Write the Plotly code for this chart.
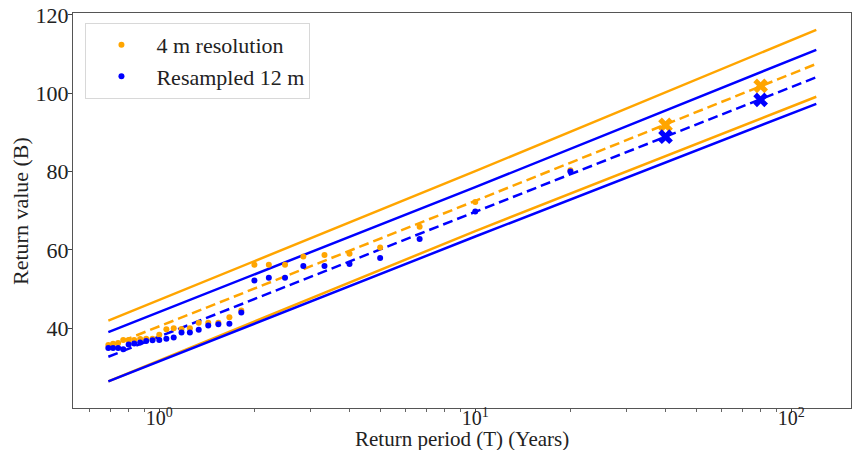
import plotly.graph_objects as go

# ---------------- data ----------------
# empirical return periods (years)
T_pts = [0.690, 0.714, 0.741, 0.769, 0.800, 0.833, 0.870, 0.909, 0.952, 1.000,
         1.053, 1.111, 1.176, 1.250, 1.333, 1.429, 1.538, 1.667, 1.818,
         2.000, 2.222, 2.500, 2.857, 3.333, 4.000, 5.000, 6.667, 10.00, 20.00]
orange_pts = [35.7, 36.0, 36.2, 37.0, 37.0, 37.0, 37.2, 37.3, 37.3, 38.3,
              39.7, 40.0, 39.8, 40.0, 41.4, 41.4, 41.4, 42.8, 44.5,
              56.2, 56.2, 56.2, 58.3, 58.7, 59.0, 60.6, 65.9, 72.2, 80.3]
blue_pts = [34.9, 34.9, 34.9, 34.6, 35.8, 36.1, 36.3, 36.7, 36.9, 37.0,
            37.3, 37.6, 38.9, 38.9, 39.6, 40.7, 41.0, 41.1, 44.0,
            52.2, 52.9, 52.9, 55.9, 55.9, 56.4, 57.9, 62.8, 69.8, 80.0]

# extrapolated return levels (crosses)
T_x = [40, 80]
orange_x = [91.9, 101.9]
blue_x = [88.9, 98.3]

# fitted curves and confidence bounds
T_fit = [0.69, 10, 120]
orange_fit = [35.3, 72.5, 107.5]
blue_fit = [32.7, 69.6, 104.1]
orange_upper = [41.9, 80.1, 116.2]
blue_upper = [39.0, 76.0, 111.1]
orange_lower = [26.4, 64.8, 99.1]
blue_lower = [26.4, 63.4, 97.3]

x_ticks = [1, 10, 100]
x_ticktext = ["10<sup>0</sup>", "10<sup>1</sup>", "10<sup>2</sup>"]
x_minor = [0.6, 0.7, 0.8, 0.9, 2, 3, 4, 5, 6, 7, 8, 9,
           20, 30, 40, 50, 60, 70, 80, 90]
y_ticks = [40, 60, 80, 100, 120]

ORANGE = "#FFA500"
BLUE = "#0000FF"
FONT = "Liberation Serif"

fig = go.Figure()

def line(y, color, dash="solid"):
    fig.add_trace(go.Scatter(x=T_fit, y=y, mode="lines",
                             line=dict(color=color, width=2.5, dash=dash),
                             showlegend=False, hoverinfo="skip"))

line(orange_upper, ORANGE)
line(blue_upper, BLUE)
line(orange_fit, ORANGE, "10px,5px")
line(blue_fit, BLUE, "10px,5px")
line(orange_lower, ORANGE)
line(blue_lower, BLUE)

fig.add_trace(go.Scatter(x=T_pts, y=orange_pts, mode="markers", name="4 m resolution",
                         marker=dict(color=ORANGE, size=6), legendgroup="a"))
fig.add_trace(go.Scatter(x=T_pts, y=blue_pts, mode="markers", name="Resampled 12 m",
                         marker=dict(color=BLUE, size=6), legendgroup="b"))
fig.add_trace(go.Scatter(x=T_x, y=orange_x, mode="markers", showlegend=False,
                         marker=dict(color=ORANGE, size=13, symbol="x")))
fig.add_trace(go.Scatter(x=T_x, y=blue_x, mode="markers", showlegend=False,
                         marker=dict(color=BLUE, size=13, symbol="x")))

fig.update_layout(
    width=852, height=450,
    margin=dict(l=73, r=1, t=13, b=42),
    plot_bgcolor="white", paper_bgcolor="white",
    font=dict(family=FONT, size=22, color="#222"),
    legend=dict(x=0.016, y=0.975, xanchor="left", yanchor="top",
                bordercolor="#d8d8d8", borderwidth=1, bgcolor="rgba(255,255,255,0.8)",
                font=dict(family=FONT, size=22, color="#222"),
                itemwidth=60, traceorder="grouped", tracegroupgap=0),
    xaxis=dict(type="log", range=[-0.273, 2.189], automargin=False,
               tickvals=x_ticks, ticktext=x_ticktext,
               ticks="outside", ticklen=4, tickcolor="#444",
               ticklabelstandoff=-12, ticklabeloverflow="allow",
               showgrid=False, zeroline=False,
               showline=True, linecolor="#555", linewidth=1, mirror=True,
               minor=dict(tickvals=x_minor, ticks="outside", ticklen=2.5, tickcolor="#666", showgrid=False),
               tickfont=dict(family=FONT, size=20)),
    yaxis=dict(range=[19.6, 120.5], tickvals=y_ticks, automargin=False,
               ticks="outside", ticklen=4, tickcolor="#444",
               ticklabelstandoff=-5, ticklabeloverflow="allow",
               showgrid=False, zeroline=False,
               showline=True, linecolor="#555", linewidth=1, mirror=True,
               tickfont=dict(family=FONT, size=22)),
    annotations=[
        dict(text="Return period (T) (Years)", xref="paper", yref="paper",
             x=0.5, y=0, xanchor="center", yanchor="top", yshift=-17,
             showarrow=False, font=dict(family=FONT, size=21, color="#222")),
        dict(text="Return value (B)", xref="paper", yref="paper",
             x=0, y=0.5, xanchor="right", yanchor="middle", xshift=-38,
             textangle=-90, showarrow=False,
             font=dict(family=FONT, size=22, color="#222")),
    ],
)

# remove the browser's default 8px body margin so the figure fills the window
fig.write_html("out.html", config={"displayModeBar": False},
               post_script="document.body.style.margin='0';document.body.style.overflow='hidden';")
